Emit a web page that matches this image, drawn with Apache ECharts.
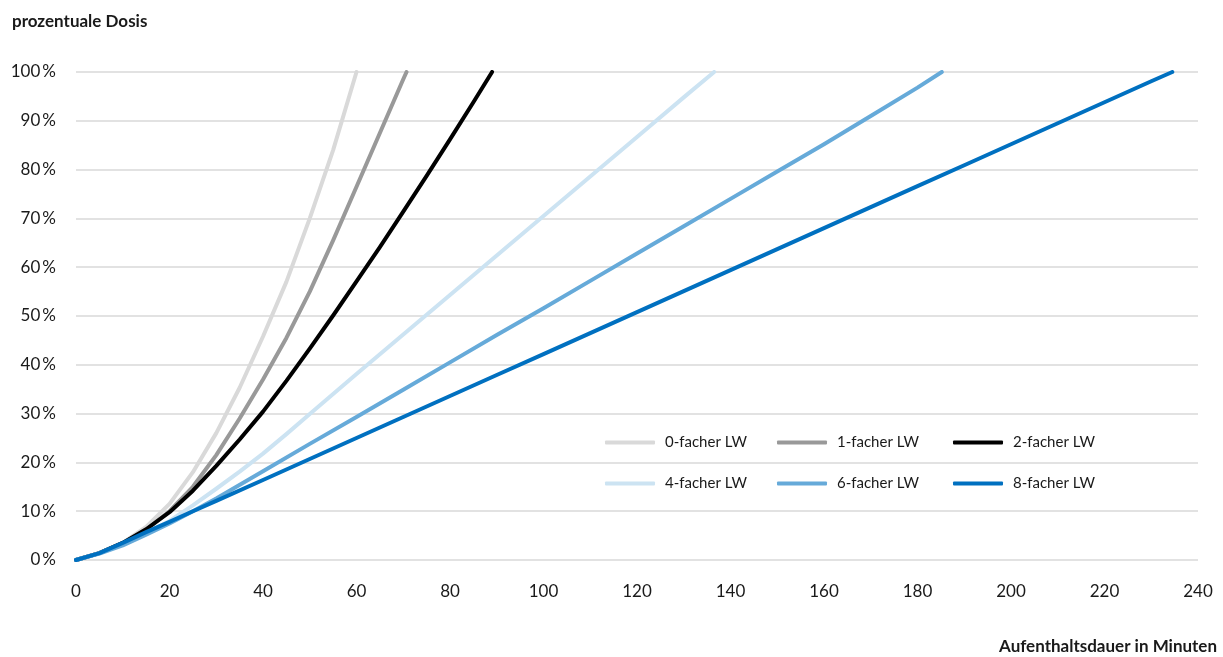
<!DOCTYPE html>
<html>
<head>
<meta charset="utf-8">
<script src="https://cdn.jsdelivr.net/npm/echarts@6/dist/echarts.min.js"></script>
<style>
html,body{margin:0;padding:0;background:#fff;}
#chart{width:1223px;height:657px;}
</style>
</head>
<body>
<div id="chart"></div>
<script>
// x ticks (minutes) and y ticks (%)
const xTicks = [0, 20, 40, 60, 80, 100, 120, 140, 160, 180, 200, 220, 240];
const yTicks = [0, 10, 20, 30, 40, 50, 60, 70, 80, 90, 100];

const seriesNames = ['0-facher LW', '1-facher LW', '2-facher LW', '4-facher LW', '6-facher LW', '8-facher LW'];

// [minutes, percent dose]
const dose0 = [[0,0],[5,1.4],[10,3.5],[15,6.8],[20,11.5],[25,18],[30,26],[35,35.3],[40,45.8],[45,57],[50,70],[55,84],[60,100]];
const dose1 = [[0,0],[5,1.4],[10,3.4],[15,6.2],[20,10],[25,15],[30,21.5],[35,29],[40,37],[45,45.5],[50,55],[55,65.5],[60,76.5],[65,87.5],[70,98.5],[70.7,100]];
const dose2 = [[0,0],[5,1.4],[10,3.5],[15,6.3],[20,9.8],[25,14.2],[30,19.3],[35,24.7],[40,30.4],[45,36.7],[50,43.3],[55,50.1],[60,57.1],[65,64.1],[70,71.4],[75,78.7],[80,86.2],[85,93.8],[89,100]];
const dose4 = [[0,0],[5,1.4],[10,3.3],[15,5.5],[20,8],[25,11.2],[30,14.6],[35,18.1],[40,21.8],[45,25.8],[50,29.9],[60,38.1],[70,46.2],[80,54.3],[90,62.4],[100,70.5],[110,78.6],[120,86.7],[130,94.8],[136.5,100]];
const dose6 = [[0,0],[5,1.3],[10,3],[15,5.2],[20,7.5],[25,10],[30,12.6],[40,18.2],[50,23.8],[60,29.3],[70,34.9],[80,40.5],[90,46.1],[100,51.6],[110,57.2],[120,62.8],[130,68.4],[140,74],[150,79.6],[160,85.2],[170,91],[180,96.8],[185.2,100]];
const dose8 = [[0,0],[5,1.4],[10,3.5],[15,5.7],[20,7.8],[25,10],[30,12.1],[40,16.4],[50,20.7],[60,25],[70,29.3],[80,33.6],[90,37.9],[100,42.2],[110,46.5],[120,50.8],[130,55.1],[140,59.4],[150,63.7],[160,68],[170,72.3],[180,76.6],[190,80.9],[200,85.2],[210,89.5],[220,93.8],[230,98.1],[234.5,100]];

const seriesData = [dose0, dose1, dose2, dose4, dose6, dose8];
const colors = ['#d9d9d9', '#999999', '#000000', '#cce3f2', '#66aad9', '#0070c0'];

const FONT = 'Lato, "Open Sans", sans-serif';
const TXT = '#1a1a1a';

const legendPos = [
  {left: 605, top: 435}, {left: 777, top: 435}, {left: 953, top: 435},
  {left: 605, top: 476}, {left: 777, top: 476}, {left: 953, top: 476}
];

const chart = echarts.init(document.getElementById('chart'), null, {renderer: 'canvas'});
chart.setOption({
  animation: false,
  backgroundColor: '#ffffff',
  title: {
    text: 'prozentuale Dosis',
    left: 12, top: 13, padding: 0,
    textStyle: {fontFamily: FONT, fontSize: 17, fontWeight: 'bold', color: TXT}
  },
  graphic: [{
    type: 'text',
    right: 6, top: 638,
    style: {text: 'Aufenthaltsdauer in Minuten', font: 'bold 17px ' + FONT, fill: TXT}
  }],
  legend: seriesNames.map((n, i) => ({
    data: [n],
    left: legendPos[i].left, top: legendPos[i].top,
    padding: 0,
    icon: 'roundRect',
    itemWidth: 50, itemHeight: 4,
    textStyle: {fontFamily: FONT, fontSize: 15, color: TXT, padding: [0, 0, 0, 5]},
    selectedMode: false
  })),
  grid: {left: 76, right: 25, top: 72, bottom: 97, containLabel: false},
  xAxis: {
    type: 'value', min: xTicks[0], max: xTicks[xTicks.length - 1], interval: 20,
    axisLine: {show: false}, axisTick: {show: false},
    splitLine: {show: false},
    axisLabel: {fontFamily: FONT, fontSize: 17, color: TXT, margin: 23}
  },
  yAxis: {
    type: 'value', min: yTicks[0], max: yTicks[yTicks.length - 1], interval: 10,
    axisLine: {show: false}, axisTick: {show: false},
    splitLine: {show: true, lineStyle: {color: '#d9d9d9', width: 1.5}},
    axisLabel: {fontFamily: FONT, fontSize: 17, color: TXT, margin: 20, formatter: v => v + '\u2009%'}
  },
  series: seriesNames.map((n, i) => ({
    name: n,
    type: 'line',
    data: seriesData[i],
    showSymbol: false,
    smooth: false,
    color: colors[i],
    itemStyle: {color: colors[i]},
    lineStyle: {color: colors[i], width: 4, cap: 'round', join: 'round'},
    emphasis: {disabled: true}
  }))
});
</script>
</body>
</html>
